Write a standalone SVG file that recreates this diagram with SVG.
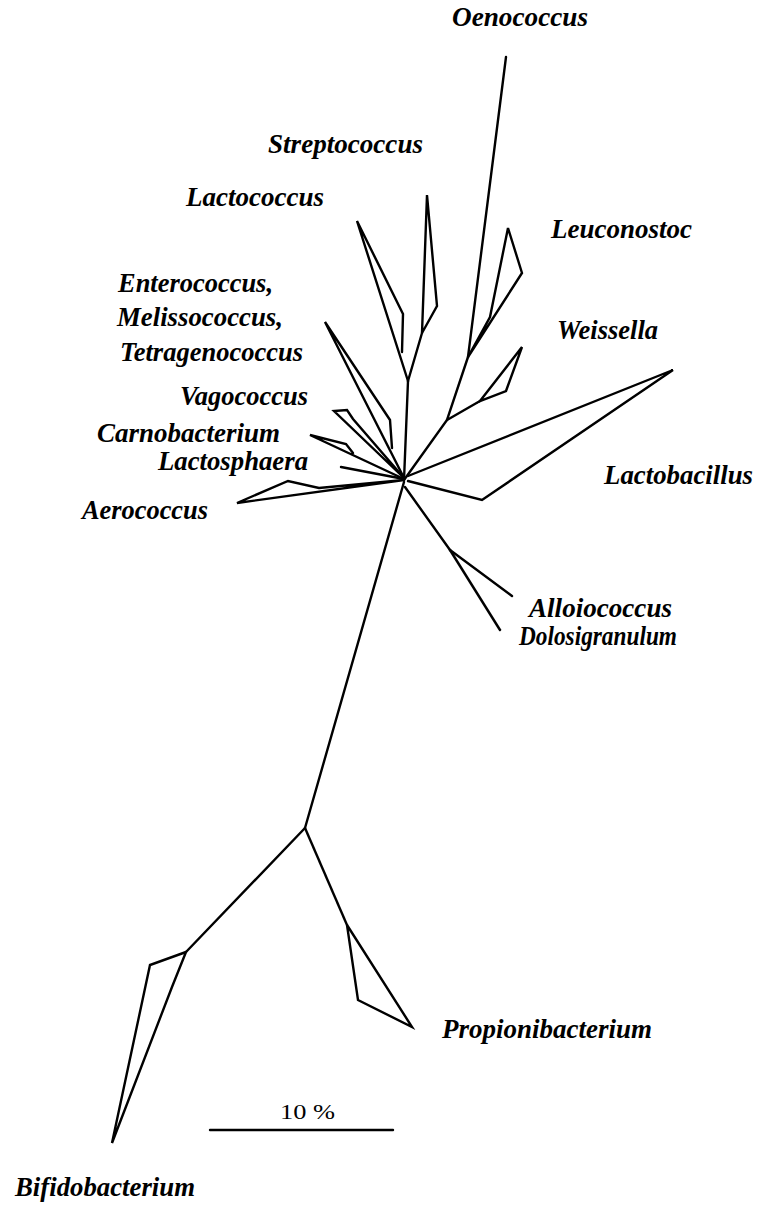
<svg xmlns="http://www.w3.org/2000/svg" width="758" height="1207" viewBox="0 0 758 1207">
<style>
.b{fill:none;stroke:#000;stroke-width:2.4;stroke-linejoin:miter;stroke-linecap:round}
.t{font-family:"Liberation Serif","Times New Roman",serif;font-style:italic;font-weight:bold;font-size:28px;fill:#000}
.s{font-family:"Liberation Serif","Times New Roman",serif;font-size:22px;fill:#000}
</style>
<rect width="758" height="1207" fill="#fff"/>
<g id="connectors" class="b">
<path d="M404,480 L408,381"/>
<path d="M408,381 L422,333"/>
<path d="M404,480 L447,420 L468,357"/>
<path d="M447,420 L480,401"/>
<path d="M404,482 L305,828"/>
<path d="M305,828 L186,952"/>
<path d="M305,828 L347,925"/>
<path d="M405,487 L450,550"/>
</g>
<g id="oenococcus">
<path class="b" d="M468,357 L506,57"/>
<text class="t" x="452" y="26" textLength="136" lengthAdjust="spacingAndGlyphs">Oenococcus</text>
</g>
<g id="streptococcus">
<path class="b" d="M422,333 L427,195 L437,306 Z"/>
<text class="t" x="268" y="153" textLength="155" lengthAdjust="spacingAndGlyphs">Streptococcus</text>
</g>
<g id="lactococcus">
<path class="b" d="M408,381 L357,221 L403,314 L402,352"/>
<text class="t" x="186" y="206" textLength="138" lengthAdjust="spacingAndGlyphs">Lactococcus</text>
</g>
<g id="leuconostoc">
<path class="b" d="M468,357 L490,317 L508,228 L522,273 Z"/>
<text class="t" x="551" y="238" textLength="141" lengthAdjust="spacingAndGlyphs">Leuconostoc</text>
</g>
<g id="weissella">
<path class="b" d="M480,401 L522,347 L506,391 Z"/>
<text class="t" x="557" y="339" textLength="101" lengthAdjust="spacingAndGlyphs">Weissella</text>
</g>
<g id="lactobacillus">
<path class="b" d="M408,476 L673,370 L482,500 L408,481"/>
<text class="t" x="604" y="484" textLength="149" lengthAdjust="spacingAndGlyphs">Lactobacillus</text>
</g>
<g id="enterococcus">
<path class="b" d="M404,478 L325,322 L390,420 L392,448"/>
<text class="t" x="118" y="292" textLength="155" lengthAdjust="spacingAndGlyphs">Enterococcus,</text>
<text class="t" x="117" y="326" textLength="166" lengthAdjust="spacingAndGlyphs">Melissococcus,</text>
<text class="t" x="120" y="361" textLength="183" lengthAdjust="spacingAndGlyphs">Tetragenococcus</text>
</g>
<g id="vagococcus">
<path class="b" d="M404,478 L334,411 L347,410 L353,419 L404,478"/>
<text class="t" x="180" y="405" textLength="128" lengthAdjust="spacingAndGlyphs">Vagococcus</text>
</g>
<g id="carnobacterium">
<path class="b" d="M404,479 L310,435 L346,444 L353,453"/>
<text class="t" x="97" y="442" textLength="183" lengthAdjust="spacingAndGlyphs">Carnobacterium</text>
</g>
<g id="lactosphaera">
<path class="b" d="M404,479 L341,467"/>
<text class="t" x="158" y="470" textLength="150" lengthAdjust="spacingAndGlyphs">Lactosphaera</text>
</g>
<g id="aerococcus">
<path class="b" d="M404,480 L319,488 L288,481 L237,503 Z"/>
<text class="t" x="82" y="519" textLength="126" lengthAdjust="spacingAndGlyphs">Aerococcus</text>
</g>
<g id="alloiococcus">
<path class="b" d="M450,550 L512,596"/>
<text class="t" x="529" y="617" textLength="143" lengthAdjust="spacingAndGlyphs">Alloiococcus</text>
</g>
<g id="dolosigranulum">
<path class="b" d="M450,550 L500,630"/>
<text class="t" x="519" y="645" textLength="158" lengthAdjust="spacingAndGlyphs">Dolosigranulum</text>
</g>
<g id="propionibacterium">
<path class="b" d="M347,925 L358,1000 L412,1027 Z"/>
<text class="t" x="442" y="1038" textLength="210" lengthAdjust="spacingAndGlyphs">Propionibacterium</text>
</g>
<g id="bifidobacterium">
<path class="b" d="M186,952 L150,965 L112,1143 L172,987 Z"/>
<text class="t" x="15" y="1196" textLength="180" lengthAdjust="spacingAndGlyphs">Bifidobacterium</text>
</g>
<g id="scale">
<path class="b" d="M210,1130 L393,1130" stroke-linecap="butt"/>
<text class="s" x="280" y="1119" textLength="55" lengthAdjust="spacingAndGlyphs">10 %</text>
</g>
</svg>
